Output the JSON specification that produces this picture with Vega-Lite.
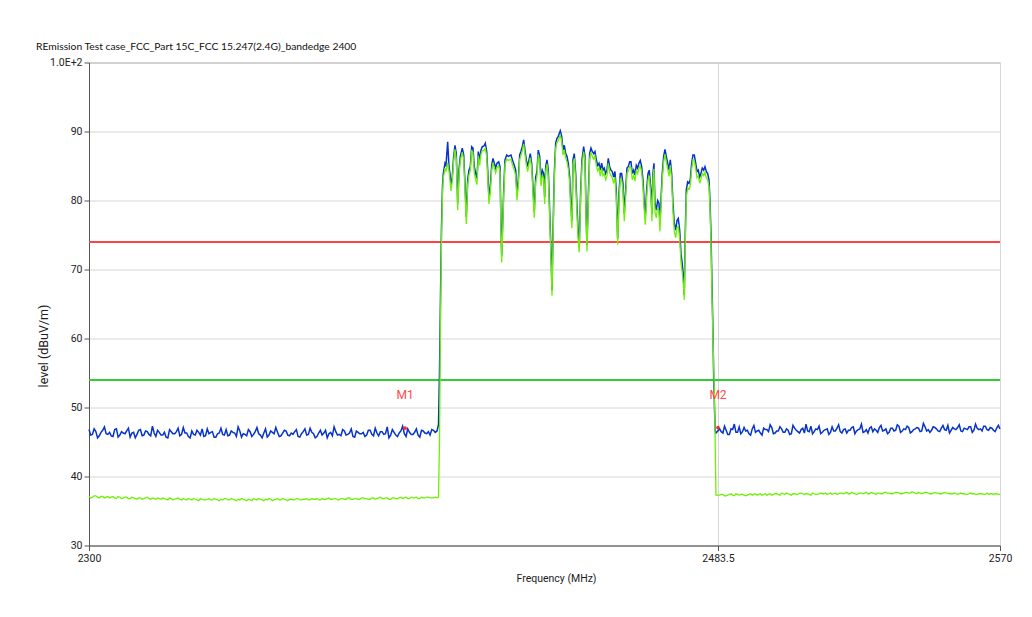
{
"$schema": "https://vega.github.io/schema/vega-lite/v6.json",
"width": 911, "height": 483,
"autosize": {"type": "none"},
"padding": {"left": 89, "top": 62.5, "right": 32, "bottom": 71.5},
"background": "white",
"title": {"text": "REmission Test case_FCC_Part 15C_FCC 15.247(2.4G)_bandedge 2400", "anchor": "start", "frame": "group", "dx": -53, "offset": 5, "fontSize": 10.3, "font": "Lato", "fontWeight": "normal", "color": "#111111"},
"config": {"view": {"stroke": "#999999", "strokeWidth": 1}},
"datasets": {
"trace": [
{"f":2300,"pk":46.8,"av":37.1},{"f":2301,"pk":46.1,"av":37.0},{"f":2302,"pk":46.5,"av":37.2},{"f":2303,"pk":45.9,"av":36.9},{"f":2304,"pk":46.7,"av":37.1},{"f":2305,"pk":46.2,"av":37.0},{"f":2306,"pk":46.4,"av":36.9},{"f":2307,"pk":45.8,"av":37.1},{"f":2308,"pk":46.9,"av":36.8},{"f":2309,"pk":46.0,"av":37.0},
{"f":2310,"pk":46.3,"av":36.9},{"f":2311,"pk":46.6,"av":37.0},{"f":2312,"pk":45.7,"av":36.8},{"f":2313,"pk":46.4,"av":36.9},{"f":2314,"pk":46.1,"av":36.7},{"f":2315,"pk":46.8,"av":36.9},{"f":2316,"pk":46.0,"av":36.8},{"f":2317,"pk":46.5,"av":37.0},{"f":2318,"pk":45.9,"av":36.7},{"f":2319,"pk":46.3,"av":36.8},
{"f":2320,"pk":46.7,"av":36.9},{"f":2321,"pk":46.0,"av":36.7},{"f":2322,"pk":46.4,"av":36.8},{"f":2323,"pk":45.6,"av":36.6},{"f":2324,"pk":46.5,"av":36.8},{"f":2325,"pk":46.2,"av":36.7},{"f":2326,"pk":47.0,"av":36.9},{"f":2327,"pk":46.1,"av":36.6},{"f":2328,"pk":46.3,"av":36.7},{"f":2329,"pk":45.8,"av":36.8},
{"f":2330,"pk":46.6,"av":36.6},{"f":2331,"pk":46.0,"av":36.7},{"f":2332,"pk":46.4,"av":36.5},{"f":2333,"pk":46.9,"av":36.7},{"f":2334,"pk":45.9,"av":36.6},{"f":2335,"pk":46.2,"av":36.8},{"f":2336,"pk":46.5,"av":36.6},{"f":2337,"pk":45.7,"av":36.7},{"f":2338,"pk":46.3,"av":36.5},{"f":2339,"pk":46.1,"av":36.6},
{"f":2340,"pk":46.8,"av":36.8},{"f":2341,"pk":46.0,"av":36.6},{"f":2342,"pk":46.4,"av":36.7},{"f":2343,"pk":45.8,"av":36.5},{"f":2344,"pk":46.6,"av":36.6},{"f":2345,"pk":46.2,"av":36.7},{"f":2346,"pk":45.9,"av":36.5},{"f":2347,"pk":46.5,"av":36.6},{"f":2348,"pk":46.1,"av":36.8},{"f":2349,"pk":47.1,"av":36.6},
{"f":2350,"pk":46.0,"av":36.7},{"f":2351,"pk":46.3,"av":36.5},{"f":2352,"pk":45.7,"av":36.6},{"f":2353,"pk":46.6,"av":36.7},{"f":2354,"pk":46.2,"av":36.6},{"f":2355,"pk":46.4,"av":36.8},{"f":2356,"pk":45.9,"av":36.6},{"f":2357,"pk":46.7,"av":36.7},{"f":2358,"pk":46.0,"av":36.5},{"f":2359,"pk":46.3,"av":36.7},
{"f":2360,"pk":46.5,"av":36.6},{"f":2361,"pk":45.8,"av":36.8},{"f":2362,"pk":46.2,"av":36.6},{"f":2363,"pk":46.9,"av":36.7},{"f":2364,"pk":46.1,"av":36.6},{"f":2365,"pk":46.4,"av":36.8},{"f":2366,"pk":45.6,"av":36.7},{"f":2367,"pk":46.3,"av":36.6},{"f":2368,"pk":46.0,"av":36.8},{"f":2369,"pk":46.7,"av":36.7},
{"f":2370,"pk":46.2,"av":36.9},{"f":2371,"pk":45.9,"av":36.7},{"f":2372,"pk":46.5,"av":36.8},{"f":2373,"pk":46.1,"av":36.6},{"f":2374,"pk":46.8,"av":36.8},{"f":2375,"pk":46.0,"av":36.7},{"f":2376,"pk":46.3,"av":36.9},{"f":2377,"pk":45.8,"av":36.7},{"f":2378,"pk":46.6,"av":36.8},{"f":2379,"pk":46.2,"av":36.7},
{"f":2380,"pk":46.4,"av":36.9},{"f":2381,"pk":46.0,"av":36.8},{"f":2382,"pk":46.7,"av":36.7},{"f":2383,"pk":45.9,"av":36.9},{"f":2384,"pk":46.3,"av":36.8},{"f":2385,"pk":46.5,"av":37.0},{"f":2386,"pk":46.1,"av":36.8},{"f":2387,"pk":47.2,"av":36.9},{"f":2388,"pk":46.0,"av":36.7},{"f":2389,"pk":46.4,"av":36.9},
{"f":2390,"pk":45.8,"av":36.8},{"f":2391,"pk":46.6,"av":37.0},{"f":2392,"pk":46.2,"av":36.9},{"f":2393,"pk":46.9,"av":36.8},{"f":2394,"pk":46.1,"av":37.0},{"f":2395,"pk":46.4,"av":36.9},{"f":2396,"pk":46.0,"av":36.8},{"f":2397,"pk":46.7,"av":37.0},{"f":2398,"pk":46.3,"av":36.9},{"f":2399,"pk":46.5,"av":37.0},
{"f":2400,"pk":46.8,"av":36.9},{"f":2401,"pk":46.4,"av":37.0},
{"f":2300.5,"pk":46.0,"av":36.9},{"f":2301.5,"pk":46.9,"av":37.2},{"f":2302.5,"pk":45.6,"av":37.0},{"f":2303.5,"pk":46.4,"av":37.1},{"f":2304.5,"pk":47.2,"av":36.9},{"f":2305.5,"pk":46.1,"av":37.1},{"f":2306.5,"pk":45.9,"av":37.0},{"f":2307.5,"pk":46.8,"av":36.9},{"f":2308.5,"pk":45.7,"av":37.1},{"f":2309.5,"pk":46.5,"av":36.8},
{"f":2310.5,"pk":46.2,"av":37.0},{"f":2311.5,"pk":47.0,"av":36.8},{"f":2312.5,"pk":46.3,"av":37.0},{"f":2313.5,"pk":45.6,"av":36.8},{"f":2314.5,"pk":46.7,"av":36.9},{"f":2315.5,"pk":45.9,"av":36.7},{"f":2316.5,"pk":46.6,"av":36.9},{"f":2317.5,"pk":46.1,"av":36.8},{"f":2318.5,"pk":47.3,"av":36.9},{"f":2319.5,"pk":45.8,"av":36.7},
{"f":2320.5,"pk":46.4,"av":36.8},{"f":2321.5,"pk":46.0,"av":36.9},{"f":2322.5,"pk":45.7,"av":36.7},{"f":2323.5,"pk":46.8,"av":36.9},{"f":2324.5,"pk":46.2,"av":36.6},{"f":2325.5,"pk":46.5,"av":36.8},{"f":2326.5,"pk":45.9,"av":36.7},{"f":2327.5,"pk":47.1,"av":36.8},{"f":2328.5,"pk":46.3,"av":36.6},{"f":2329.5,"pk":45.6,"av":36.7},
{"f":2330.5,"pk":46.1,"av":36.8},{"f":2331.5,"pk":46.7,"av":36.6},{"f":2332.5,"pk":46.0,"av":36.8},{"f":2333.5,"pk":45.8,"av":36.6},{"f":2334.5,"pk":46.9,"av":36.7},{"f":2335.5,"pk":46.4,"av":36.6},{"f":2336.5,"pk":45.7,"av":36.8},{"f":2337.5,"pk":46.2,"av":36.6},{"f":2338.5,"pk":47.0,"av":36.7},{"f":2339.5,"pk":46.0,"av":36.8},
{"f":2340.5,"pk":45.9,"av":36.6},{"f":2341.5,"pk":46.6,"av":36.8},{"f":2342.5,"pk":46.3,"av":36.6},{"f":2343.5,"pk":47.2,"av":36.7},{"f":2344.5,"pk":45.7,"av":36.8},{"f":2345.5,"pk":46.1,"av":36.6},{"f":2346.5,"pk":46.8,"av":36.7},{"f":2347.5,"pk":45.8,"av":36.5},{"f":2348.5,"pk":46.5,"av":36.7},{"f":2349.5,"pk":46.2,"av":36.8},
{"f":2350.5,"pk":45.6,"av":36.6},{"f":2351.5,"pk":46.9,"av":36.7},{"f":2352.5,"pk":46.0,"av":36.8},{"f":2353.5,"pk":46.4,"av":36.5},{"f":2354.5,"pk":47.1,"av":36.7},{"f":2355.5,"pk":45.8,"av":36.6},{"f":2356.5,"pk":46.3,"av":36.8},{"f":2357.5,"pk":46.6,"av":36.6},{"f":2358.5,"pk":45.9,"av":36.7},{"f":2359.5,"pk":46.1,"av":36.6},
{"f":2360.5,"pk":46.8,"av":36.8},{"f":2361.5,"pk":45.7,"av":36.6},{"f":2362.5,"pk":46.5,"av":36.7},{"f":2363.5,"pk":46.0,"av":36.8},{"f":2364.5,"pk":47.0,"av":36.6},{"f":2365.5,"pk":46.2,"av":36.7},{"f":2366.5,"pk":45.8,"av":36.8},{"f":2367.5,"pk":46.7,"av":36.6},{"f":2368.5,"pk":46.3,"av":36.7},{"f":2369.5,"pk":45.6,"av":36.8},
{"f":2370.5,"pk":46.4,"av":36.7},{"f":2371.5,"pk":47.2,"av":36.8},{"f":2372.5,"pk":46.0,"av":36.6},{"f":2373.5,"pk":45.9,"av":36.8},{"f":2374.5,"pk":46.6,"av":36.7},{"f":2375.5,"pk":46.1,"av":36.9},{"f":2376.5,"pk":46.9,"av":36.7},{"f":2377.5,"pk":45.7,"av":36.8},{"f":2378.5,"pk":46.4,"av":36.7},{"f":2379.5,"pk":46.2,"av":36.9},
{"f":2380.5,"pk":45.8,"av":36.8},{"f":2381.5,"pk":46.7,"av":36.7},{"f":2382.5,"pk":46.1,"av":36.9},{"f":2383.5,"pk":47.0,"av":36.7},{"f":2384.5,"pk":45.9,"av":36.9},{"f":2385.5,"pk":46.5,"av":36.8},{"f":2386.5,"pk":46.2,"av":36.9},{"f":2387.5,"pk":45.6,"av":36.7},{"f":2388.5,"pk":46.8,"av":36.9},{"f":2389.5,"pk":46.0,"av":36.8},
{"f":2390.5,"pk":46.3,"av":36.9},{"f":2391.5,"pk":47.3,"av":36.8},{"f":2392.5,"pk":45.8,"av":37.0},{"f":2393.5,"pk":46.4,"av":36.8},{"f":2394.5,"pk":46.1,"av":36.9},{"f":2395.5,"pk":46.9,"av":37.0},{"f":2396.5,"pk":45.7,"av":36.8},{"f":2397.5,"pk":46.6,"av":36.9},{"f":2398.5,"pk":46.2,"av":37.0},{"f":2399.5,"pk":46.0,"av":36.9},
{"f":2400.5,"pk":46.7,"av":36.9},
{"f":2401.52,"pk":46.6,"av":36.9},{"f":2401.96,"pk":47.5,"av":37.0},{"f":2402.25,"pk":55,"av":45},{"f":2402.54,"pk":66,"av":62},{"f":2402.83,"pk":76,"av":74},{"f":2403.12,"pk":82,"av":81},
{"f":2403.36,"pk":83.9,"av":83.2},{"f":2403.85,"pk":85.4,"av":84.7},{"f":2404.14,"pk":85.1,"av":84.2},{"f":2404.64,"pk":88.5,"av":85.5},{"f":2405.02,"pk":84.9,"av":84.3},{"f":2405.31,"pk":83.9,"av":83.0},{"f":2405.6,"pk":82.2,"av":81.4},{"f":2405.98,"pk":83.4,"av":82.8},{"f":2406.39,"pk":86.4,"av":85.8},{"f":2406.77,"pk":88.0,"av":87.4},
{"f":2407.15,"pk":86.8,"av":86.0},{"f":2407.56,"pk":79.6,"av":78.6},{"f":2407.94,"pk":84.4,"av":83.6},{"f":2408.32,"pk":86.4,"av":85.8},{"f":2408.9,"pk":87.6,"av":87.0},{"f":2409.31,"pk":86.6,"av":85.9},{"f":2409.69,"pk":82.5,"av":81.6},{"f":2410.07,"pk":77.6,"av":76.6},{"f":2410.47,"pk":83.0,"av":82.2},{"f":2410.85,"pk":84.4,"av":83.7},
{"f":2411.23,"pk":84.9,"av":84.3},{"f":2411.64,"pk":87.8,"av":87.2},{"f":2412.02,"pk":87.6,"av":87.0},{"f":2412.4,"pk":84.9,"av":84.0},{"f":2412.81,"pk":83.9,"av":83.0},{"f":2413.19,"pk":83.2,"av":82.3},{"f":2413.57,"pk":87.1,"av":86.5},{"f":2413.98,"pk":85.9,"av":85.1},{"f":2414.35,"pk":87.3,"av":86.7},{"f":2414.73,"pk":87.8,"av":87.2},
{"f":2415.23,"pk":87.9,"av":87.3},{"f":2415.61,"pk":88.3,"av":87.6},{"f":2416.02,"pk":87.1,"av":86.4},{"f":2416.31,"pk":84.4,"av":83.5},{"f":2416.69,"pk":80.3,"av":79.5},{"f":2417.07,"pk":82.0,"av":81.2},{"f":2417.48,"pk":85.1,"av":84.4},{"f":2417.85,"pk":86.1,"av":85.5},{"f":2418.23,"pk":85.4,"av":84.7},{"f":2418.64,"pk":84.7,"av":84.0},
{"f":2419.02,"pk":85.4,"av":84.8},{"f":2419.52,"pk":85.6,"av":85.0},{"f":2419.9,"pk":84.9,"av":84.2},{"f":2420.19,"pk":76.7,"av":75.5},{"f":2420.39,"pk":72.0,"av":71.0},{"f":2420.68,"pk":76.7,"av":75.8},{"f":2420.98,"pk":81.5,"av":80.6},{"f":2421.36,"pk":85.9,"av":85.2},{"f":2421.85,"pk":86.6,"av":86.0},{"f":2422.32,"pk":86.4,"av":85.8},
{"f":2423.11,"pk":86.6,"av":86.0},{"f":2423.69,"pk":85.6,"av":84.9},{"f":2424.07,"pk":85.1,"av":84.4},{"f":2424.48,"pk":84.4,"av":83.6},{"f":2424.86,"pk":81.0,"av":80.0},{"f":2425.24,"pk":83.0,"av":82.2},{"f":2425.64,"pk":86.6,"av":86.0},{"f":2426.02,"pk":87.1,"av":86.5},{"f":2426.4,"pk":87.8,"av":87.2},{"f":2426.81,"pk":88.8,"av":88.2},
{"f":2427.19,"pk":87.3,"av":86.7},{"f":2427.57,"pk":85.9,"av":85.2},{"f":2427.98,"pk":84.9,"av":84.2},{"f":2428.36,"pk":85.9,"av":85.3},{"f":2428.74,"pk":86.8,"av":86.2},{"f":2429.14,"pk":85.4,"av":84.7},{"f":2429.52,"pk":82.0,"av":81.0},{"f":2429.9,"pk":78.4,"av":77.5},{"f":2430.31,"pk":83.4,"av":82.6},{"f":2430.69,"pk":84.2,"av":83.5},
{"f":2431.07,"pk":87.3,"av":86.7},{"f":2431.48,"pk":86.4,"av":85.7},{"f":2431.86,"pk":83.0,"av":82.1},{"f":2432.24,"pk":84.4,"av":83.7},{"f":2432.65,"pk":83.9,"av":83.1},{"f":2432.94,"pk":80.5,"av":79.5},{"f":2433.23,"pk":84.9,"av":84.2},{"f":2433.61,"pk":85.9,"av":85.3},{"f":2433.99,"pk":84.4,"av":83.6},{"f":2434.39,"pk":78.6,"av":77.5},
{"f":2434.77,"pk":72.8,"av":71.5},{"f":2435.07,"pk":67.0,"av":66.2},{"f":2435.36,"pk":75.2,"av":74.0},{"f":2435.74,"pk":83.9,"av":83.0},{"f":2436.15,"pk":88.3,"av":87.6},{"f":2436.52,"pk":89.0,"av":88.4},{"f":2436.9,"pk":89.3,"av":88.7},{"f":2437.49,"pk":90.1,"av":89.5},{"f":2437.9,"pk":89.3,"av":88.6},{"f":2438.28,"pk":87.3,"av":86.6},
{"f":2438.66,"pk":88.0,"av":87.3},{"f":2439.06,"pk":86.8,"av":86.1},{"f":2439.44,"pk":86.4,"av":85.6},{"f":2439.82,"pk":85.4,"av":84.6},{"f":2440.23,"pk":83.4,"av":82.5},{"f":2440.61,"pk":79.1,"av":78.0},{"f":2440.9,"pk":77.1,"av":76.0},{"f":2441.19,"pk":85.9,"av":85.2},{"f":2441.57,"pk":86.8,"av":86.1},{"f":2441.98,"pk":83.9,"av":83.0},
{"f":2442.36,"pk":79.1,"av":78.0},{"f":2442.74,"pk":75.2,"av":74.0},{"f":2443.03,"pk":73.5,"av":72.5},{"f":2443.44,"pk":81.5,"av":80.5},{"f":2443.82,"pk":85.9,"av":85.1},{"f":2444.31,"pk":87.8,"av":87.1},{"f":2444.69,"pk":86.4,"av":85.7},{"f":2444.98,"pk":79.1,"av":78.0},{"f":2445.27,"pk":73.5,"av":72.6},{"f":2445.66,"pk":80.5,"av":79.4},
{"f":2446.06,"pk":86.8,"av":86.0},{"f":2446.44,"pk":87.6,"av":87.0},{"f":2446.82,"pk":87.1,"av":86.4},{"f":2447.23,"pk":86.8,"av":86.0},{"f":2447.61,"pk":87.1,"av":86.4},{"f":2447.99,"pk":85.9,"av":85.1},{"f":2448.4,"pk":85.1,"av":84.3},{"f":2448.78,"pk":85.4,"av":84.7},{"f":2449.16,"pk":84.4,"av":83.5},{"f":2449.56,"pk":85.4,"av":84.7},
{"f":2449.94,"pk":84.4,"av":83.6},{"f":2450.32,"pk":84.7,"av":83.9},{"f":2450.73,"pk":83.9,"av":83.0},{"f":2451.11,"pk":84.4,"av":83.6},{"f":2451.49,"pk":86.1,"av":85.4},{"f":2451.9,"pk":84.9,"av":84.1},{"f":2452.28,"pk":84.4,"av":83.6},{"f":2452.66,"pk":84.2,"av":83.3},{"f":2453.06,"pk":83.4,"av":82.5},{"f":2453.44,"pk":84.2,"av":83.4},
{"f":2453.82,"pk":81.5,"av":80.4},{"f":2454.23,"pk":74.5,"av":73.6},{"f":2454.61,"pk":81.0,"av":80.0},{"f":2454.99,"pk":83.9,"av":83.1},{"f":2455.39,"pk":83.9,"av":83.0},{"f":2455.77,"pk":82.5,"av":81.5},{"f":2456.15,"pk":78.1,"av":77.0},{"f":2456.56,"pk":81.5,"av":80.5},{"f":2456.94,"pk":84.7,"av":84.0},{"f":2457.32,"pk":84.9,"av":84.2},
{"f":2457.73,"pk":85.6,"av":84.9},{"f":2458.11,"pk":85.6,"av":84.8},{"f":2458.49,"pk":83.9,"av":83.0},{"f":2458.9,"pk":84.4,"av":83.6},{"f":2459.28,"pk":83.7,"av":82.8},{"f":2459.66,"pk":85.1,"av":84.4},{"f":2460.06,"pk":84.7,"av":83.9},{"f":2460.44,"pk":85.4,"av":84.7},{"f":2460.82,"pk":85.8,"av":85.0},{"f":2461.23,"pk":84.9,"av":84.1},
{"f":2461.61,"pk":83.0,"av":82.0},{"f":2461.99,"pk":79.6,"av":78.5},{"f":2462.28,"pk":77.6,"av":76.5},{"f":2462.69,"pk":81.5,"av":80.5},{"f":2463.07,"pk":83.9,"av":83.0},{"f":2463.45,"pk":84.4,"av":83.6},{"f":2463.94,"pk":81.5,"av":80.4},{"f":2464.24,"pk":78.1,"av":77.0},{"f":2464.53,"pk":83.9,"av":83.0},{"f":2464.82,"pk":85.4,"av":84.6},
{"f":2465.11,"pk":79.6,"av":78.4},{"f":2465.49,"pk":78.6,"av":77.5},{"f":2465.9,"pk":80.0,"av":79.0},{"f":2466.28,"pk":79.6,"av":78.5},{"f":2466.57,"pk":76.7,"av":75.5},{"f":2466.86,"pk":80.0,"av":79.0},{"f":2467.24,"pk":83.9,"av":83.0},{"f":2467.65,"pk":86.4,"av":85.6},{"f":2468.03,"pk":87.4,"av":86.7},{"f":2468.41,"pk":86.4,"av":85.6},
{"f":2468.82,"pk":85.4,"av":84.6},{"f":2469.2,"pk":84.4,"av":83.5},{"f":2469.58,"pk":85.9,"av":85.1},{"f":2469.98,"pk":83.9,"av":83.0},{"f":2470.36,"pk":79.6,"av":78.5},{"f":2470.74,"pk":76.7,"av":75.6},{"f":2471.15,"pk":75.7,"av":74.6},{"f":2471.53,"pk":77.1,"av":76.0},{"f":2471.91,"pk":77.4,"av":76.3},{"f":2472.32,"pk":75.7,"av":74.5},
{"f":2472.7,"pk":72.3,"av":71.0},{"f":2473.08,"pk":70.8,"av":69.5},{"f":2473.49,"pk":68.4,"av":67.2},{"f":2473.66,"pk":66.3,"av":65.6},{"f":2473.95,"pk":75.2,"av":73.8},{"f":2474.25,"pk":81.5,"av":80.5},{"f":2474.65,"pk":82.7,"av":81.8},{"f":2475.03,"pk":82.5,"av":81.6},{"f":2475.41,"pk":83.0,"av":82.1},{"f":2475.82,"pk":85.4,"av":84.6},
{"f":2476.2,"pk":86.6,"av":85.9},{"f":2476.58,"pk":86.6,"av":85.8},{"f":2476.99,"pk":85.4,"av":84.6},{"f":2477.37,"pk":84.2,"av":83.3},{"f":2477.75,"pk":84.4,"av":83.6},{"f":2478.15,"pk":83.4,"av":82.5},{"f":2478.53,"pk":83.9,"av":83.1},{"f":2478.91,"pk":84.7,"av":83.9},{"f":2479.32,"pk":84.4,"av":83.6},{"f":2479.7,"pk":84.9,"av":84.1},
{"f":2480.08,"pk":84.2,"av":83.3},{"f":2480.49,"pk":83.9,"av":83.0},{"f":2480.87,"pk":83.0,"av":82.0},{"f":2481.16,"pk":80.0,"av":79.0},{"f":2481.45,"pk":75.2,"av":74.0},{"f":2481.74,"pk":67.9,"av":66.5},{"f":2482.03,"pk":61.1,"av":60.0},{"f":2482.24,"pk":54.3,"av":56.0},{"f":2482.53,"pk":49.0,"av":50.0},{"f":2482.7,"pk":46.6,"av":44.0},
{"f":2482.91,"pk":46.3,"av":37.3},
{"f":2484,"pk":46.9,"av":37.3},{"f":2485,"pk":46.3,"av":37.4},{"f":2486,"pk":46.7,"av":37.2},{"f":2487,"pk":46.1,"av":37.4},{"f":2488,"pk":46.8,"av":37.3},{"f":2489,"pk":46.4,"av":37.5},{"f":2490,"pk":47.2,"av":37.3},{"f":2491,"pk":46.5,"av":37.4},{"f":2492,"pk":46.6,"av":37.2},{"f":2493,"pk":46.2,"av":37.4},
{"f":2494,"pk":46.9,"av":37.3},{"f":2495,"pk":46.4,"av":37.5},{"f":2496,"pk":46.7,"av":37.4},{"f":2497,"pk":46.0,"av":37.3},{"f":2498,"pk":46.8,"av":37.5},{"f":2499,"pk":46.5,"av":37.4},{"f":2500,"pk":47.1,"av":37.3},{"f":2501,"pk":46.3,"av":37.5},{"f":2502,"pk":46.6,"av":37.4},{"f":2503,"pk":46.9,"av":37.6},
{"f":2504,"pk":46.4,"av":37.4},{"f":2505,"pk":46.7,"av":37.5},{"f":2506,"pk":46.2,"av":37.3},{"f":2507,"pk":47.0,"av":37.5},{"f":2508,"pk":46.5,"av":37.4},{"f":2509,"pk":46.8,"av":37.6},{"f":2510,"pk":46.3,"av":37.4},{"f":2511,"pk":46.6,"av":37.5},{"f":2512,"pk":47.3,"av":37.3},{"f":2513,"pk":46.5,"av":37.5},
{"f":2514,"pk":46.8,"av":37.4},{"f":2515,"pk":46.2,"av":37.6},{"f":2516,"pk":46.7,"av":37.5},{"f":2517,"pk":46.9,"av":37.4},{"f":2518,"pk":46.4,"av":37.6},{"f":2519,"pk":46.6,"av":37.5},{"f":2520,"pk":47.0,"av":37.4},{"f":2521,"pk":46.5,"av":37.6},{"f":2522,"pk":46.8,"av":37.5},{"f":2523,"pk":46.3,"av":37.7},
{"f":2524,"pk":46.7,"av":37.5},{"f":2525,"pk":47.2,"av":37.6},{"f":2526,"pk":46.6,"av":37.4},{"f":2527,"pk":46.9,"av":37.6},{"f":2528,"pk":46.4,"av":37.5},{"f":2529,"pk":46.8,"av":37.7},{"f":2530,"pk":47.0,"av":37.5},{"f":2531,"pk":46.5,"av":37.6},{"f":2532,"pk":46.7,"av":37.4},{"f":2533,"pk":47.1,"av":37.6},
{"f":2534,"pk":46.6,"av":37.5},{"f":2535,"pk":46.9,"av":37.7},{"f":2536,"pk":46.4,"av":37.6},{"f":2537,"pk":47.0,"av":37.5},{"f":2538,"pk":46.7,"av":37.7},{"f":2539,"pk":47.3,"av":37.6},{"f":2540,"pk":46.6,"av":37.5},{"f":2541,"pk":46.8,"av":37.7},{"f":2542,"pk":47.1,"av":37.6},{"f":2543,"pk":46.5,"av":37.8},
{"f":2544,"pk":46.9,"av":37.6},{"f":2545,"pk":47.0,"av":37.7},{"f":2546,"pk":46.6,"av":37.5},{"f":2547,"pk":47.2,"av":37.7},{"f":2548,"pk":46.8,"av":37.6},{"f":2549,"pk":46.7,"av":37.5},{"f":2550,"pk":47.1,"av":37.7},{"f":2551,"pk":46.6,"av":37.6},{"f":2552,"pk":47.0,"av":37.5},{"f":2553,"pk":46.8,"av":37.7},
{"f":2554,"pk":47.4,"av":37.6},{"f":2555,"pk":46.7,"av":37.5},{"f":2556,"pk":46.9,"av":37.6},{"f":2557,"pk":47.1,"av":37.4},{"f":2558,"pk":46.6,"av":37.6},{"f":2559,"pk":47.0,"av":37.5},{"f":2560,"pk":46.8,"av":37.4},{"f":2561,"pk":47.2,"av":37.6},{"f":2562,"pk":46.7,"av":37.5},{"f":2563,"pk":47.0,"av":37.4},
{"f":2564,"pk":46.9,"av":37.5},{"f":2565,"pk":47.3,"av":37.4},{"f":2566,"pk":46.8,"av":37.6},{"f":2567,"pk":47.1,"av":37.5},{"f":2568,"pk":46.7,"av":37.4},{"f":2569,"pk":47.0,"av":37.5},{"f":2570,"pk":46.9,"av":37.4},
{"f":2484.5,"pk":46.5,"av":37.4},{"f":2485.5,"pk":47.3,"av":37.2},{"f":2486.5,"pk":46.1,"av":37.3},{"f":2487.5,"pk":46.9,"av":37.5},{"f":2488.5,"pk":47.6,"av":37.2},{"f":2489.5,"pk":46.4,"av":37.4},{"f":2490.5,"pk":46.2,"av":37.4},{"f":2491.5,"pk":47.1,"av":37.3},{"f":2492.5,"pk":46.7,"av":37.3},{"f":2493.5,"pk":46.0,"av":37.5},
{"f":2494.5,"pk":47.4,"av":37.4},{"f":2495.5,"pk":46.6,"av":37.3},{"f":2496.5,"pk":46.3,"av":37.5},{"f":2497.5,"pk":47.0,"av":37.4},{"f":2498.5,"pk":46.8,"av":37.3},{"f":2499.5,"pk":47.5,"av":37.5},{"f":2500.5,"pk":46.2,"av":37.4},{"f":2501.5,"pk":46.6,"av":37.5},{"f":2502.5,"pk":47.2,"av":37.3},{"f":2503.5,"pk":46.4,"av":37.5},
{"f":2504.5,"pk":46.9,"av":37.6},{"f":2505.5,"pk":46.1,"av":37.4},{"f":2506.5,"pk":47.4,"av":37.5},{"f":2507.5,"pk":46.7,"av":37.4},{"f":2508.5,"pk":46.3,"av":37.6},{"f":2509.5,"pk":47.0,"av":37.5},{"f":2510.5,"pk":47.6,"av":37.5},{"f":2511.5,"pk":46.5,"av":37.4},{"f":2512.5,"pk":46.2,"av":37.6},{"f":2513.5,"pk":46.9,"av":37.4},
{"f":2514.5,"pk":47.3,"av":37.5},{"f":2515.5,"pk":46.4,"av":37.5},{"f":2516.5,"pk":46.8,"av":37.6},{"f":2517.5,"pk":46.1,"av":37.5},{"f":2518.5,"pk":47.2,"av":37.4},{"f":2519.5,"pk":46.6,"av":37.6},{"f":2520.5,"pk":47.5,"av":37.5},{"f":2521.5,"pk":46.3,"av":37.6},{"f":2522.5,"pk":46.9,"av":37.6},{"f":2523.5,"pk":46.7,"av":37.5},
{"f":2524.5,"pk":47.1,"av":37.7},{"f":2525.5,"pk":46.2,"av":37.5},{"f":2526.5,"pk":46.8,"av":37.5},{"f":2527.5,"pk":47.6,"av":37.6},{"f":2528.5,"pk":46.5,"av":37.6},{"f":2529.5,"pk":46.3,"av":37.5},{"f":2530.5,"pk":47.2,"av":37.7},{"f":2531.5,"pk":46.9,"av":37.5},{"f":2532.5,"pk":46.4,"av":37.6},{"f":2533.5,"pk":47.4,"av":37.5},
{"f":2534.5,"pk":46.7,"av":37.7},{"f":2535.5,"pk":46.2,"av":37.6},{"f":2536.5,"pk":47.0,"av":37.5},{"f":2537.5,"pk":46.6,"av":37.6},{"f":2538.5,"pk":47.5,"av":37.7},{"f":2539.5,"pk":46.4,"av":37.5},{"f":2540.5,"pk":46.9,"av":37.6},{"f":2541.5,"pk":47.3,"av":37.7},{"f":2542.5,"pk":46.3,"av":37.6},{"f":2543.5,"pk":46.8,"av":37.7},
{"f":2544.5,"pk":47.1,"av":37.5},{"f":2545.5,"pk":46.5,"av":37.6},{"f":2546.5,"pk":47.7,"av":37.6},{"f":2547.5,"pk":46.6,"av":37.7},{"f":2548.5,"pk":46.4,"av":37.5},{"f":2549.5,"pk":47.2,"av":37.6},{"f":2550.5,"pk":46.9,"av":37.6},{"f":2551.5,"pk":46.5,"av":37.5},{"f":2552.5,"pk":47.4,"av":37.6},{"f":2553.5,"pk":46.7,"av":37.6},
{"f":2554.5,"pk":46.3,"av":37.5},{"f":2555.5,"pk":47.1,"av":37.5},{"f":2556.5,"pk":46.8,"av":37.5},{"f":2557.5,"pk":47.5,"av":37.5},{"f":2558.5,"pk":46.5,"av":37.5},{"f":2559.5,"pk":46.9,"av":37.4},{"f":2560.5,"pk":47.2,"av":37.5},{"f":2561.5,"pk":46.4,"av":37.5},{"f":2562.5,"pk":47.6,"av":37.4},{"f":2563.5,"pk":46.8,"av":37.5},
{"f":2564.5,"pk":46.6,"av":37.5},{"f":2565.5,"pk":47.3,"av":37.4},{"f":2566.5,"pk":46.7,"av":37.4},{"f":2567.5,"pk":47.0,"av":37.5},{"f":2568.5,"pk":46.5,"av":37.5},{"f":2569.5,"pk":47.4,"av":37.4}
],
"markers": [
{"m":"M1","f":2392.2,"level":47.0},
{"m":"M2","f":2483.5,"level":47.1}
]
},
"encoding": {
"x": {"field":"f","type":"quantitative","scale":{"domain":[2300,2483.5,2570],"range":[0,629,911],"nice":false,"zero":false},
 "axis":{"values":[2300,2483.5,2570],"labelExpr":"format(datum.value, '.1~f')","title":"Frequency (MHz)","grid":true,"gridColor":"#d6d6d6","domainColor":"#555555","tickColor":"#555555","tickSize":5,"labelFont":"Roboto","labelFontSize":10.5,"labelColor":"#222222","labelPadding":3,"labelFlush":false,"labelOverlap":false,"titleFont":"Roboto","titleFontSize":10.5,"titleFontWeight":"normal","titleColor":"#222222","titleX":467,"titleY":33,"titleBaseline":"middle","titleAlign":"center"}}
},
"layer": [
{"data":{"name":"trace"},"mark":{"type":"rule","color":"#ff4444","strokeWidth":1},"encoding":{"x":null,"y":{"datum":74,"type":"quantitative","scale":{"domain":[30,100],"nice":false,"zero":false},
 "axis":{"values":[30,40,50,60,70,80,90,100],"labelExpr":"datum.value == 100 ? '1.0E+2' : format(datum.value, 'd')","title":"level (dBuV/m)","grid":true,"gridColor":"#d6d6d6","domainColor":"#555555","tickColor":"#555555","tickSize":5,"labelFont":"Roboto","labelFontSize":10.5,"labelColor":"#222222","labelPadding":2,"titleFont":"Roboto","titleFontSize":12.5,"titleFontWeight":"normal","titleColor":"#222222","titleX":-46,"titleY":283,"titleBaseline":"middle","titleAlign":"center"}}}},
{"data":{"name":"trace"},"mark":{"type":"rule","color":"#33cc33","strokeWidth":1},"encoding":{"x":null,"y":{"datum":54,"type":"quantitative"}}},
{"data":{"name":"trace"},"mark":{"type":"line","color":"#0633c8","strokeWidth":1.5},"encoding":{"y":{"field":"pk","type":"quantitative"}}},
{"data":{"name":"trace"},"mark":{"type":"line","color":"#6cf200","strokeWidth":1.3},"encoding":{"y":{"field":"av","type":"quantitative"}}},
{"data":{"name":"markers"},"mark":{"type":"point","filled":true,"color":"#ff2a2a","size":14,"opacity":1},"encoding":{"y":{"field":"level","type":"quantitative"}}},
{"data":{"name":"markers"},"mark":{"type":"text","color":"#ff4a4a","font":"Roboto","fontSize":12,"dy":-33,"baseline":"middle","align":"center"},"encoding":{"y":{"field":"level","type":"quantitative"},"text":{"field":"m"}}}
]
}
